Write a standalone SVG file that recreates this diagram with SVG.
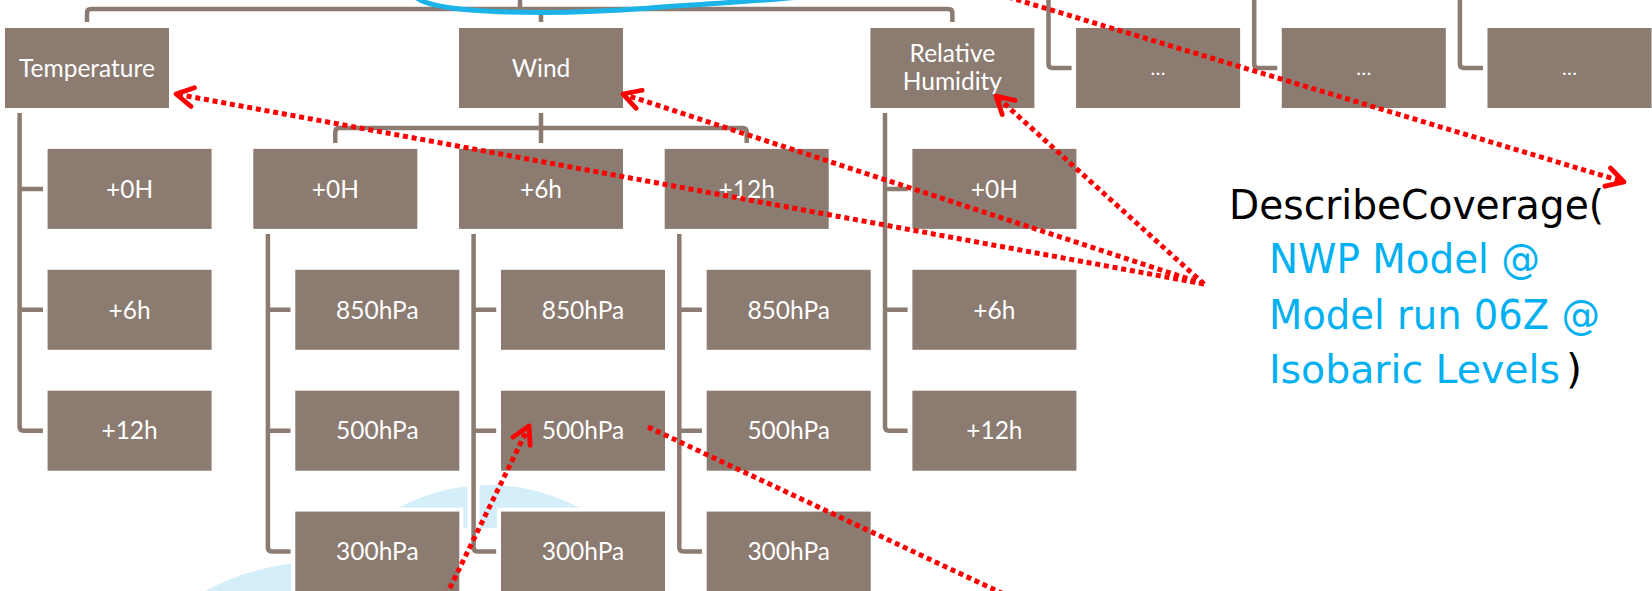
<svg xmlns="http://www.w3.org/2000/svg" width="1652" height="591" viewBox="0 0 1652 591">
<defs>
<style>
.box{fill:#8B7B70;stroke:#fff;stroke-width:8;paint-order:stroke}
.t{font-family:Lato,"Open Sans","Liberation Sans",sans-serif;font-size:24.5px;fill:#fff;text-anchor:middle}
.c{fill:none;stroke:#8B7B70;stroke-width:4.5;stroke-linejoin:round}
.ch{fill:none;stroke:#fff;stroke-width:12;stroke-linejoin:round}
.r{fill:none;stroke:#f00;stroke-width:5;stroke-dasharray:5 3.8}
.cy{font-family:"DejaVu Sans","Liberation Sans",sans-serif;font-size:41px;fill:#00B0F0}
.bk{font-family:"DejaVu Sans","Liberation Sans",sans-serif;font-size:41px;fill:#000}
</style>
<marker id="ah" markerUnits="userSpaceOnUse" viewBox="-22 -13 26 26" refX="0" refY="0" markerWidth="26" markerHeight="26" orient="auto"><path d="M-17,-9.5 L0,0 L-17,9.5" fill="none" stroke="#f00" stroke-width="4.8" stroke-linecap="round" stroke-linejoin="round"/></marker>
</defs>
<rect width="1652" height="591" fill="#fff"/>
<path d="M368.3,528 A191,191 0 0 1 609.7,528 Z" fill="#D4EFF9"/>
<circle cx="320" cy="804.5" r="242.5" fill="#D4EFF9"/>
<g id="connectors">
<g class="ch">
<path d="M87,22 V13 Q87,9 91,9 H948.4 Q952.4,9 952.4,13 V22 M541,9 V22 M520,-2 V9"/>
<path d="M19.6,113 V426.7 Q19.6,430.7 23.6,430.7 H43 M19.6,188.9 H43 M19.6,309.8 H43"/>
<path d="M541,113 V143 M335.3,143 V132 Q335.3,128 339.3,128 H742.7 Q746.7,128 746.7,132 V143"/>
<path d="M267.9,233.9 V547.6 Q267.9,551.6 271.9,551.6 H290.5 M267.9,309.8 H290.5 M267.9,430.7 H290.5"/>
<path d="M473.6,233.9 V547.6 Q473.6,551.6 477.6,551.6 H496.2 M473.6,309.8 H496.2 M473.6,430.7 H496.2"/>
<path d="M679.3,233.9 V547.6 Q679.3,551.6 683.3,551.6 H701.9 M679.3,309.8 H701.9 M679.3,430.7 H701.9"/>
<path d="M885,113 V426.7 Q885,430.7 889,430.7 H907.6 M885,188.9 H907.6 M885,309.8 H907.6"/>
</g>
<g class="c">
<path d="M87,22 V13 Q87,9 91,9 H948.4 Q952.4,9 952.4,13 V22 M541,9 V22 M520,-2 V9"/>
<path d="M19.6,113 V426.7 Q19.6,430.7 23.6,430.7 H43 M19.6,188.9 H43 M19.6,309.8 H43"/>
<path d="M541,113 V143 M335.3,143 V132 Q335.3,128 339.3,128 H742.7 Q746.7,128 746.7,132 V143"/>
<path d="M267.9,233.9 V547.6 Q267.9,551.6 271.9,551.6 H290.5 M267.9,309.8 H290.5 M267.9,430.7 H290.5"/>
<path d="M473.6,233.9 V547.6 Q473.6,551.6 477.6,551.6 H496.2 M473.6,309.8 H496.2 M473.6,430.7 H496.2"/>
<path d="M679.3,233.9 V547.6 Q679.3,551.6 683.3,551.6 H701.9 M679.3,309.8 H701.9 M679.3,430.7 H701.9"/>
<path d="M885,113 V426.7 Q885,430.7 889,430.7 H907.6 M885,188.9 H907.6 M885,309.8 H907.6"/>
<path d="M1048.5,-3 V64 Q1048.5,68 1052.5,68 H1071.6"/>
<path d="M1254.2,-3 V64 Q1254.2,68 1258.2,68 H1277.3"/>
<path d="M1459.9,-3 V64 Q1459.9,68 1463.9,68 H1483"/>
</g>
</g>
<path d="M417,-2 C440,15 560,15 650,8 C720,3 770,0 800,-3" fill="none" stroke="#1BB3E8" stroke-width="5"/>
<g id="n-temperature"><rect class="box" x="5" y="28" width="164" height="80"/><text class="t" x="87" y="76.7">Temperature</text></g>
<g id="n-wind"><rect class="box" x="459" y="28" width="164" height="80"/><text class="t" x="541" y="76.7">Wind</text></g>
<g id="n-rh"><rect class="box" x="870.4" y="28" width="164" height="80"/><text class="t" x="952.4" y="62">Relative</text><text class="t" x="952.4" y="90">Humidity</text></g>
<g id="n-more1"><rect class="box" x="1076.1" y="28" width="164" height="80"/><text class="t" x="1158.1" y="75" style="font-size:20px">…</text></g>
<g id="n-more2"><rect class="box" x="1281.8" y="28" width="164" height="80"/><text class="t" x="1363.8" y="75" style="font-size:20px">…</text></g>
<g id="n-more3"><rect class="box" x="1487.5" y="28" width="164" height="80"/><text class="t" x="1569.5" y="75" style="font-size:20px">…</text></g>
<g id="n-temp-0h"><rect class="box" x="47.6" y="148.9" width="164" height="80"/><text class="t" x="129.6" y="197.6">+0H</text></g>
<g id="n-temp-6h"><rect class="box" x="47.6" y="269.8" width="164" height="80"/><text class="t" x="129.6" y="318.5">+6h</text></g>
<g id="n-temp-12h"><rect class="box" x="47.6" y="390.7" width="164" height="80"/><text class="t" x="129.6" y="439.4">+12h</text></g>
<g id="n-wind-0h"><rect class="box" x="253.3" y="148.9" width="164" height="80"/><text class="t" x="335.3" y="197.6">+0H</text></g>
<g id="n-wind-6h"><rect class="box" x="459" y="148.9" width="164" height="80"/><text class="t" x="541" y="197.6">+6h</text></g>
<g id="n-wind-12h"><rect class="box" x="664.7" y="148.9" width="164" height="80"/><text class="t" x="746.7" y="197.6">+12h</text></g>
<g id="n-wind-0h-850"><rect class="box" x="295.3" y="269.8" width="164" height="80"/><text class="t" x="377.3" y="318.5">850hPa</text></g>
<g id="n-wind-0h-500"><rect class="box" x="295.3" y="390.7" width="164" height="80"/><text class="t" x="377.3" y="439.4">500hPa</text></g>
<g id="n-wind-0h-300"><rect class="box" x="295.3" y="511.6" width="164" height="80"/><text class="t" x="377.3" y="560.3">300hPa</text></g>
<g id="n-wind-6h-850"><rect class="box" x="501" y="269.8" width="164" height="80"/><text class="t" x="583" y="318.5">850hPa</text></g>
<g id="n-wind-6h-500"><rect class="box" x="501" y="390.7" width="164" height="80"/><text class="t" x="583" y="439.4">500hPa</text></g>
<g id="n-wind-6h-300"><rect class="box" x="501" y="511.6" width="164" height="80"/><text class="t" x="583" y="560.3">300hPa</text></g>
<g id="n-wind-12h-850"><rect class="box" x="706.7" y="269.8" width="164" height="80"/><text class="t" x="788.7" y="318.5">850hPa</text></g>
<g id="n-wind-12h-500"><rect class="box" x="706.7" y="390.7" width="164" height="80"/><text class="t" x="788.7" y="439.4">500hPa</text></g>
<g id="n-wind-12h-300"><rect class="box" x="706.7" y="511.6" width="164" height="80"/><text class="t" x="788.7" y="560.3">300hPa</text></g>
<g id="n-rh-0h"><rect class="box" x="912.4" y="148.9" width="164" height="80"/><text class="t" x="994.4" y="197.6">+0H</text></g>
<g id="n-rh-6h"><rect class="box" x="912.4" y="269.8" width="164" height="80"/><text class="t" x="994.4" y="318.5">+6h</text></g>
<g id="n-rh-12h"><rect class="box" x="912.4" y="390.7" width="164" height="80"/><text class="t" x="994.4" y="439.4">+12h</text></g>
<g id="n-request">
<text class="bk" x="1229" y="218.5" textLength="375" lengthAdjust="spacingAndGlyphs">DescribeCoverage(</text>
<text class="cy" x="1269" y="272.7" textLength="271" lengthAdjust="spacingAndGlyphs">NWP Model @</text>
<text class="cy" x="1269" y="328.5" textLength="331" lengthAdjust="spacingAndGlyphs">Model run 06Z @</text>
<text class="cy" x="1269" y="383" style="font-size:39px" textLength="291" lengthAdjust="spacingAndGlyphs">Isobaric Levels</text>
<text class="bk" x="1566" y="383">)</text>
</g>
<g id="arrows">
<path class="r" d="M1204,284 L176,94" marker-end="url(#ah)"/>
<path class="r" d="M1204,284 L623,94" marker-end="url(#ah)"/>
<path class="r" d="M1204,284 L996,96" marker-end="url(#ah)"/>
<path class="r" d="M1008,-3 L1624,182" marker-end="url(#ah)"/>
<path class="r" d="M446,596 L529,426" marker-end="url(#ah)"/>
<path class="r" d="M648,427 L1010,597"/>
</g>
</svg>
